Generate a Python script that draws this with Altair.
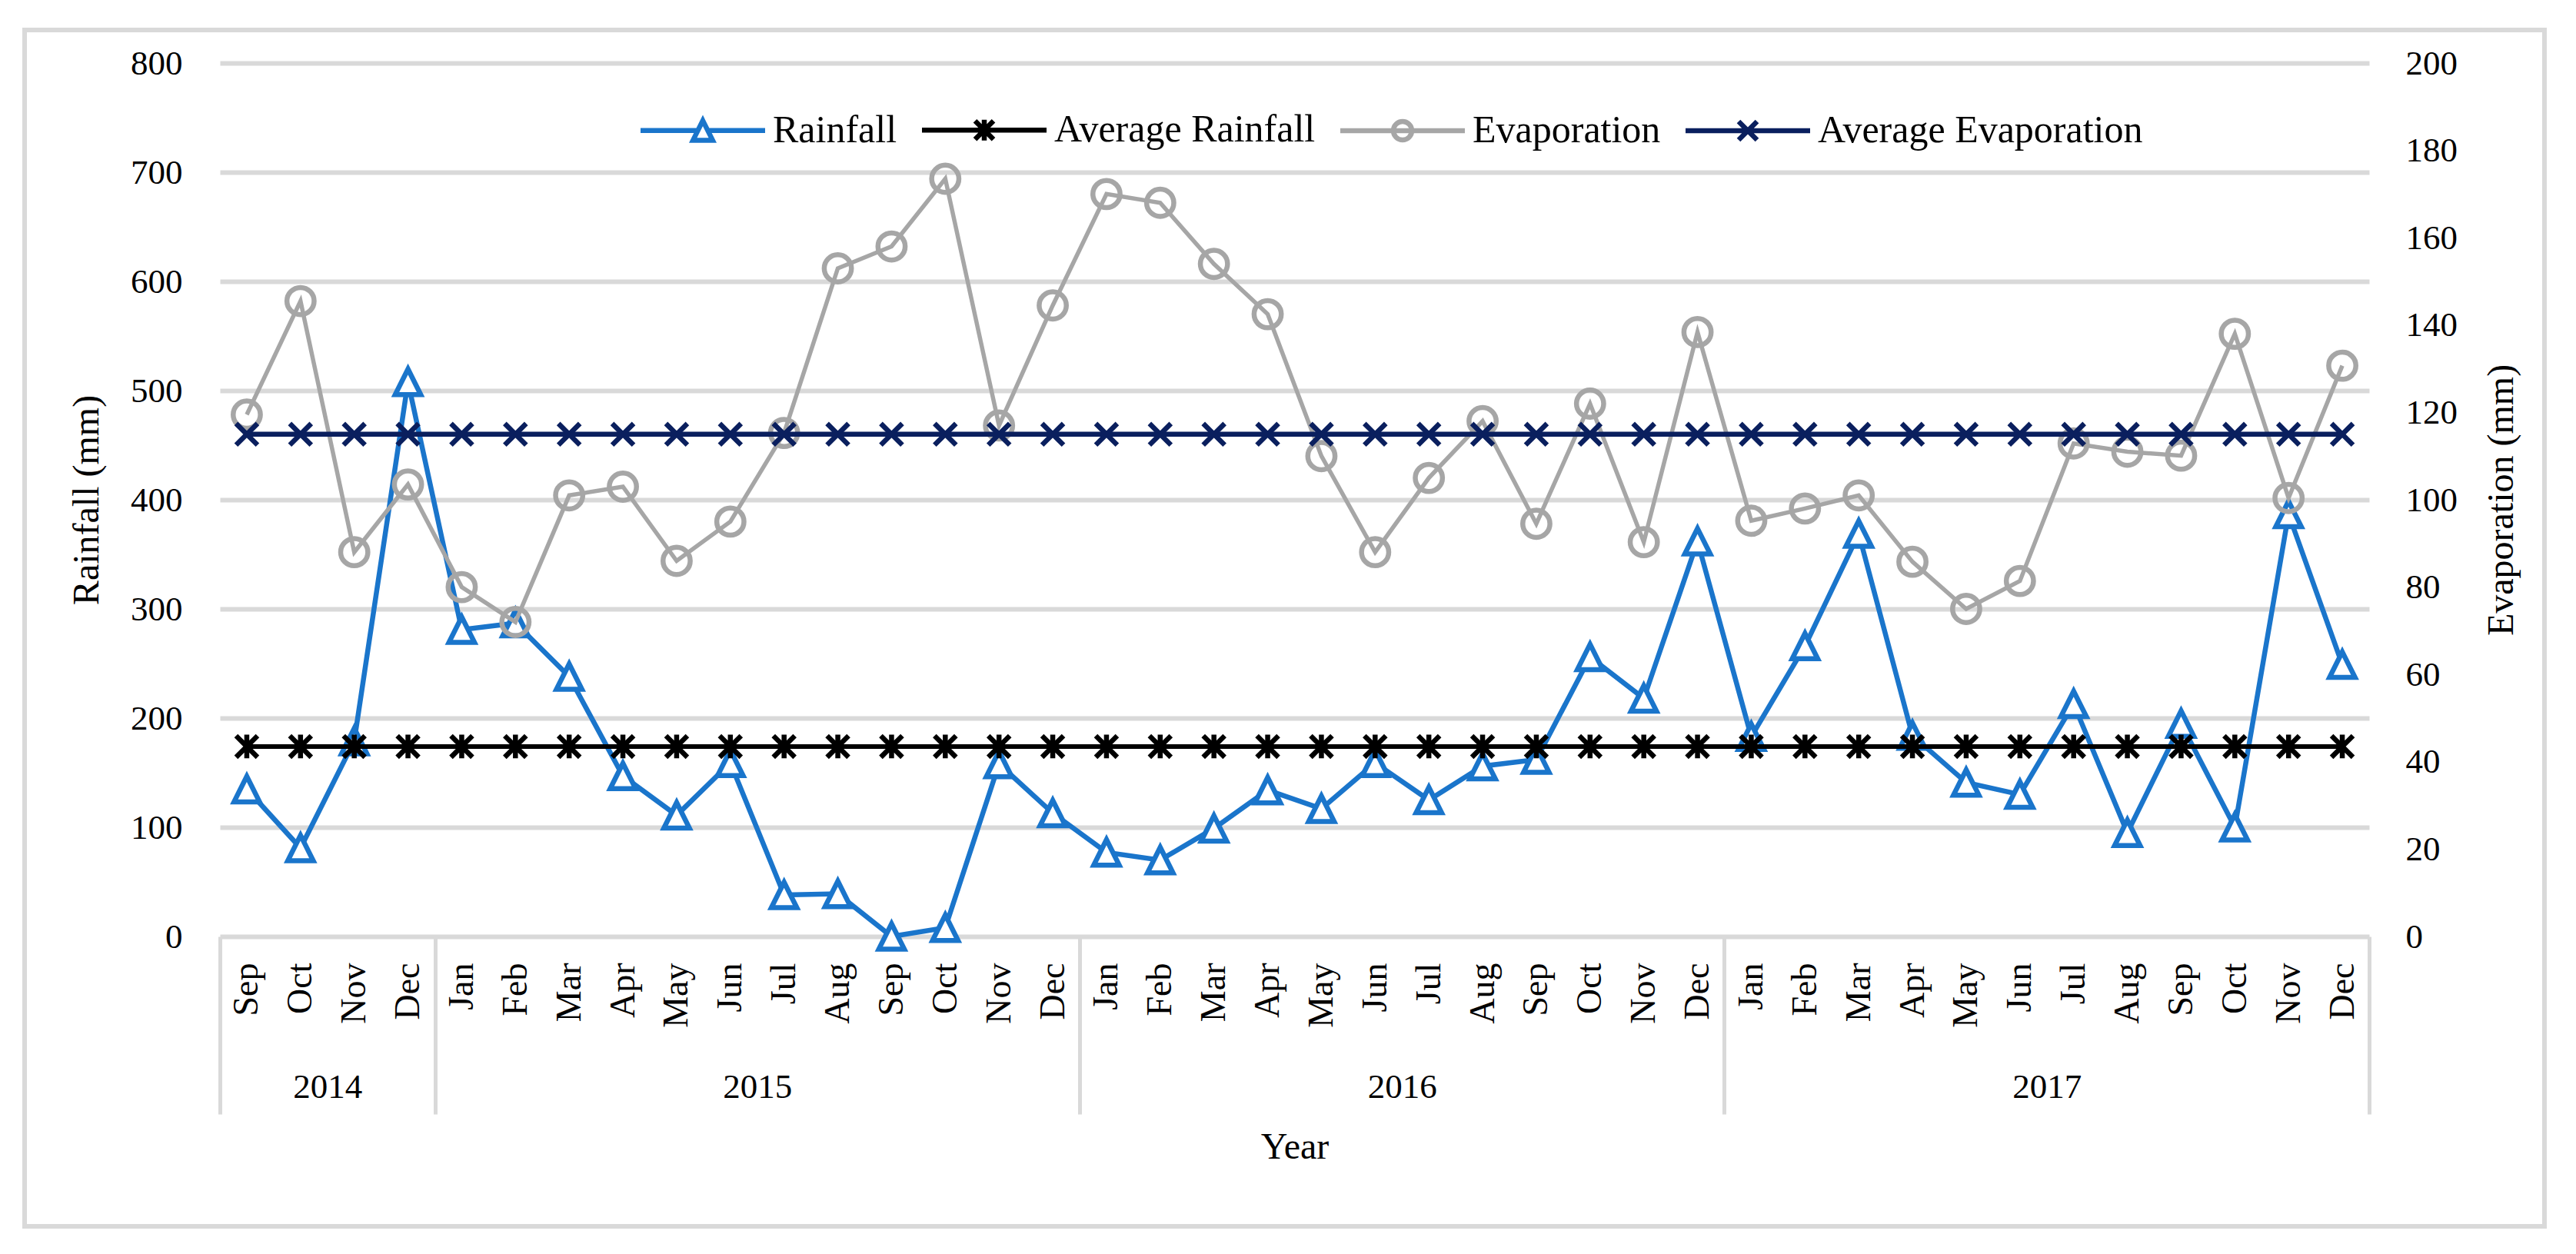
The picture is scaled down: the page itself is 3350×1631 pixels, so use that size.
import json
import altair as alt
import pandas as pd

# ---------------- data ----------------
years = ["2014"] * 4 + ["2015"] * 12 + ["2016"] * 12 + ["2017"] * 12
months = (["Sep", "Oct", "Nov", "Dec"]
          + ["Jan", "Feb", "Mar", "Apr", "May", "Jun", "Jul", "Aug", "Sep", "Oct", "Nov", "Dec"] * 3)

rainfall = [135, 81, 179, 508,
            281, 287, 238, 147, 111, 159, 38, 39, 0, 8, 158, 113,
            77, 70, 99, 134, 117, 159, 125, 156, 162, 256, 218, 362,
            183, 266, 369, 184, 141, 130, 213, 95, 195, 100, 387, 249]

evaporation = [119.5, 145.5, 88, 103.5,
               80, 72, 101, 103, 86, 95, 115.3, 153, 158, 173.5, 117, 144.5,
               170, 168, 154, 142.5, 110, 88, 105, 118, 94.5, 122, 90.3, 138.4,
               95.2, 98, 101, 85.8, 75, 81.4, 112.9, 111, 110.1, 138, 100.4, 130.7]

avg_rainfall = [174] * 40
avg_evaporation = [115] * 40

series = ["Rainfall", "Average Rainfall", "Evaporation", "Average Evaporation"]
year_labels = ["2014", "2015", "2016", "2017"]

# ---------------- styling ----------------
FONT = "Liberation Serif"
BLUE = "#1a75cb"
GRAY = "#a6a6a6"
NAVY = "#0a1f5e"
BLACK = "#000000"
GRID = "#d9d9d9"
colors = [BLUE, BLACK, GRAY, NAVY]

TRI = "M0,-1L1,1L-1,1Z"
XSHP = "M-1,-1L1,1M1,-1L-1,1"
STAR = "M-1,-1L1,1M1,-1L-1,1M0,-1.1V1.1"

leg_paths = [
    "M-5.4,0H-0.43M0.43,0H5.4M0,-0.85L0.85,0.85L-0.85,0.85Z",
    "M-5.4,0H5.4M-0.8,-0.8L0.8,0.8M0.8,-0.8L-0.8,0.8M0,-0.9V0.9",
    "M-5.4,0H5.4M0.8,0A0.8,0.8,0,1,1,-0.8,0A0.8,0.8,0,1,1,0.8,0",
    "M-5.4,0H5.4M-0.8,-0.8L0.8,0.8M0.8,-0.8L-0.8,0.8",
]

n = len(months)
df = pd.DataFrame({
    "pos": [i + 0.5 for i in range(n)],
    "month": months,
    "rain": rainfall,
    "evap": evaporation,
    "avg_rain": avg_rainfall,
    "avg_evap": avg_evaporation,
})

# year group centres and separators
starts, counts = [], []
for y in year_labels:
    starts.append(years.index(y))
    counts.append(years.count(y))
year_centers = [s + c / 2 for s, c in zip(starts, counts)]
separators = starts + [n]

xs = alt.Scale(domain=[0, n], nice=False, zero=False)
ys_left = alt.Scale(domain=[0, 800], nice=False, zero=True)
ys_right = alt.Scale(domain=[0, 200], nice=False, zero=True)

month_axis = alt.Axis(
    orient="bottom", values=list(df["pos"]),
    labelExpr=json.dumps(months) + "[floor(datum.value)]",
    labelAngle=270, labelAlign="right", labelBaseline="middle",
    labelPadding=34, ticks=False, tickSize=0, domain=False, grid=False,
    labelFont=FONT, labelFontSize=46, labelColor="black",
    labelFlush=False, labelOverlap=False, labelBound=False, title=None,
)

year_expr = " : ".join(
    f"datum.value == {c} ? '{y}'" for c, y in zip(year_centers, year_labels)
) + " : ''"
year_axis = alt.Axis(
    orient="bottom", values=year_centers, labelExpr=year_expr,
    labelAngle=0, labelAlign="center", labelBaseline="middle",
    labelPadding=195, ticks=False, tickSize=0, domain=False, grid=False,
    labelFont=FONT, labelFontSize=45, labelColor="black",
    labelFlush=False, labelOverlap=False, labelBound=False, title=None,
)

sep_axis = alt.Axis(
    orient="bottom", values=separators, labels=False,
    ticks=True, tickSize=231, tickWidth=5, tickColor=GRID,
    domain=False, grid=False,
    title="Year", titleFont=FONT, titleFontSize=48, titleFontWeight="normal",
    titleColor="black", titlePadding=50,
)

left_axis = alt.Axis(
    orient="left", values=list(range(0, 801, 100)), grid=True,
    gridColor=GRID, gridWidth=6, ticks=False, domain=False,
    labelFont=FONT, labelFontSize=45, labelColor="black", labelPadding=49,
    title="Rainfall (mm)", titleFont=FONT, titleFontSize=48,
    titleFontWeight="normal", titleColor="black", titlePadding=32,
)

right_axis = alt.Axis(
    orient="right", values=list(range(0, 201, 20)), grid=False,
    ticks=False, domain=False,
    labelFont=FONT, labelFontSize=45, labelColor="black", labelPadding=47,
    title="Evaporation (mm)", titleFont=FONT, titleFontSize=48,
    titleFontWeight="normal", titleColor="black", titlePadding=34,
    titleAngle=270, titleBaseline="top",
)

base = alt.Chart(df)


def xenc(axis=None):
    return alt.X("pos:Q", scale=xs, axis=axis)


rain_line = base.mark_line(color=BLUE, strokeWidth=6.5).encode(
    x=xenc(month_axis), y=alt.Y("rain:Q", scale=ys_left, axis=left_axis))
rain_pts = base.mark_point(shape=TRI, size=1100, fill="white", stroke=BLUE,
                           strokeWidth=6.5, opacity=1, fillOpacity=1).encode(
    x=xenc(), y=alt.Y("rain:Q", scale=ys_left, axis=None))
avg_rain_line = base.mark_line(color=BLACK, strokeWidth=6).encode(
    x=xenc(year_axis), y=alt.Y("avg_rain:Q", scale=ys_left, axis=None))
avg_rain_pts = base.mark_point(shape=STAR, size=780, filled=False, stroke=BLACK,
                               strokeWidth=6.5, opacity=1).encode(
    x=xenc(), y=alt.Y("avg_rain:Q", scale=ys_left, axis=None))

evap_line = base.mark_line(color=GRAY, strokeWidth=5.5).encode(
    x=xenc(sep_axis), y=alt.Y("evap:Q", scale=ys_right, axis=right_axis))
evap_pts = base.mark_point(shape="circle", size=1250, filled=False, stroke=GRAY,
                           strokeWidth=6.5, opacity=1).encode(
    x=xenc(), y=alt.Y("evap:Q", scale=ys_right, axis=None))
avg_evap_line = base.mark_line(color=NAVY, strokeWidth=6.5).encode(
    x=xenc(), y=alt.Y("avg_evap:Q", scale=ys_right, axis=None))
avg_evap_pts = base.mark_point(shape=XSHP, size=780, filled=False, stroke=NAVY,
                               strokeWidth=6.5, opacity=1).encode(
    x=xenc(), y=alt.Y("avg_evap:Q", scale=ys_right, axis=None))

# legend-only layer (no drawable rows: position is null)
legend_df = pd.DataFrame({"series": series, "pos": [None] * len(series)})
leg = alt.Legend(
    title=None, orient="none", legendX=537, legendY=62, direction="horizontal",
    labelFont=FONT, labelFontSize=50, labelColor="black", labelLimit=0,
    symbolSize=900, symbolStrokeWidth=6.5, symbolOffset=66, labelOffset=66,
    columnPadding=19, symbolOpacity=1,
)
legend_layer = alt.Chart(legend_df).mark_point(filled=False, size=900, strokeWidth=6, opacity=1).encode(
    x=xenc(),
    color=alt.Color("series:N", scale=alt.Scale(domain=series, range=colors), legend=leg),
    shape=alt.Shape("series:N", scale=alt.Scale(domain=series, range=leg_paths), legend=leg),
)

# outer chart-area border (decoration, unfilled so axes stay visible)
border = alt.Chart(pd.DataFrame({"k": [0]})).mark_rect(
    filled=False, color=GRID, strokeWidth=6
).encode(
    x=alt.value(-254), x2=alt.value(3023), y=alt.value(-43), y2=alt.value(1513)
)

chart = (
    alt.layer(border, rain_line, rain_pts, avg_rain_line, avg_rain_pts,
              evap_line, evap_pts, avg_evap_line, avg_evap_pts, legend_layer)
    .resolve_scale(y="independent")
    .resolve_axis(x="independent", y="independent")
    .properties(width=2795, height=1136,
                padding={"left": 21, "top": 28, "right": 20, "bottom": 20})
    .configure_view(stroke=None)
)

chart.save("out.html", embed_options={"renderer": "svg", "actions": False})
